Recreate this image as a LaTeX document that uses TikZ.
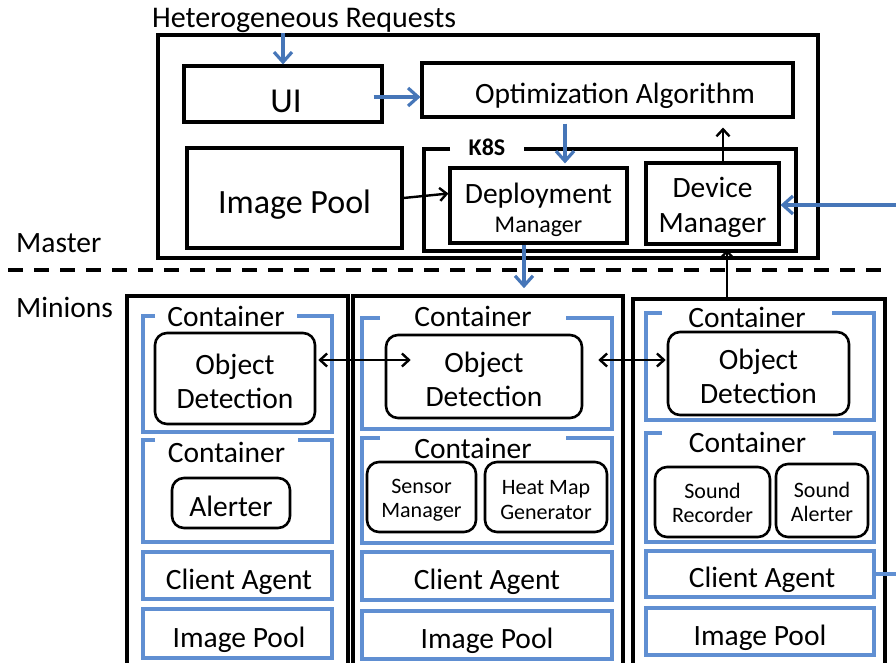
\documentclass[tikz,border=0pt]{standalone}
\usepackage{fontspec}
\setmainfont{Carlito}
\usetikzlibrary{arrows.meta,calc}
\definecolor{arrowblue}{RGB}{70,118,184}
\definecolor{boxblue}{RGB}{96,143,210}
\newcommand\bigtxt{\fontsize{29.5pt}{34pt}\selectfont}
\newcommand\smalltxt{\fontsize{22pt}{24.5pt}\selectfont}
% container outline with an opening in the top edge for its label
\newcommand\ctrbox[8]{%
  \draw[ctrline] (#6,#3) -- (#2,#3) -- (#2,#5) -- (#4,#5) -- (#4,#3) -- (#7,#3);
  \node[font=\bigtxt, inner sep=0pt] (#1) at ({(#6+#7)/2},#8) {Container};
}
\begin{document}
\begin{tikzpicture}[x=1pt,y=-1pt,
  frame/.style={draw, line width=3.6pt, inner sep=0pt},
  box/.style={draw, line width=3.1pt, inner sep=0pt},
  rbox/.style={draw, line width=2.6pt, rounded corners=12pt, inner sep=0pt},
  bbox/.style={draw=boxblue, line width=3.3pt, inner sep=0pt},
  txt/.style={font=\bigtxt, align=center, inner sep=0pt},
  stxt/.style={font=\smalltxt, align=center, inner sep=0pt},
  ctrline/.style={draw=boxblue, line width=3.3pt, line cap=butt, line join=miter},
  barrow/.style={draw=arrowblue, line width=3.2pt, -{Straight Barb[length=10pt,width=18pt]}},
  karrow/.style={draw=black, line width=2.4pt, -{Straight Barb[length=7pt,width=13pt]}},
  darrow/.style={draw=black, line width=2.4pt, {Straight Barb[length=7pt,width=13pt]}-{Straight Barb[length=7pt,width=13pt]}},
  lbl/.style={font=\bigtxt, inner sep=0pt, anchor=base west}]
\useasboundingbox (0,0) rectangle (896,663);
\clip (0,0) rectangle (896,663);

% ---------- master ----------
\node[lbl, font=\fontsize{30pt}{34pt}\selectfont] (hr) at (152,28) {Heterogeneous Requests};
\node[frame, minimum width=660pt, minimum height=223pt] (mst) at (488,146.5) {};
\node[box, minimum width=198pt, minimum height=56pt,
  label={[txt, font=\fontsize{35pt}{40pt}\selectfont, xshift=3pt, yshift=-7pt]center:UI}] (ui) at (283,94) {};
\node[box, minimum width=371pt, minimum height=54pt,
  label={[txt, xshift=7.5pt, yshift=-5.5pt]center:Optimization Algorithm}] (opt) at (607.5,90) {};
\node[box, minimum width=215pt, minimum height=100pt,
  label={[txt, font=\fontsize{34pt}{40pt}\selectfont, yshift=-6.5pt]center:Image Pool}] (ipm) at (294.5,198) {};

% K8S frame, open where its label sits
\draw[line width=3.1pt, line join=miter] (450,149) -- (424,149) -- (424,251) -- (796,251) -- (796,149) -- (524,149);
\node[font=\fontsize{24pt}{28pt}\selectfont\bfseries, inner sep=0pt] (k8s) at (487,147) {K8S};
\node[box, minimum width=177pt, minimum height=75pt,
  label={[txt, font=\fontsize{29.5pt}{29pt}\selectfont, yshift=-4.5pt]center:Deployment\\{\fontsize{24pt}{29pt}\selectfont Manager}}] (dep) at (538.5,205.5) {};
\node[box, minimum width=133pt, minimum height=81pt,
  label={[txt, font=\fontsize{29.5pt}{35pt}\selectfont, yshift=-3.5pt]center:Device\\Manager}] (dev) at (712.5,203.5) {};

\node[lbl] (mlabel) at (16,252) {Master};
\node[lbl] (nlabel) at (16,317) {Minions};

\coordinate (dl) at (8,270);
\coordinate (dr) at (882,270);
\draw[line width=3.6pt, dash pattern=on 15pt off 11pt] (dl) -- (dr);

% ---------- minions ----------
\node[frame, minimum width=221pt, minimum height=384pt] (m1) at (237.5,488) {};
\node[frame, minimum width=270pt, minimum height=384pt] (m2) at (488,488) {};
\node[frame, minimum width=252pt, minimum height=381pt] (m3) at (759,489.5) {};

% minion 1
\ctrbox{c11}{143}{316}{332}{432}{155}{297}{316}
\node[rbox, minimum width=160pt, minimum height=91pt,
  label={[txt, yshift=-2.5pt]center:Object\\Detection}] (od1) at (235,378.5) {};
\ctrbox{c12}{143}{440}{332}{542}{155}{298}{452}
\node[rbox, minimum width=118pt, minimum height=50pt,
  label={[txt, yshift=-3pt]center:Alerter}] (alr) at (231,503) {};
\node[bbox, minimum width=189pt, minimum height=47pt,
  label={[txt, xshift=1.5pt, yshift=-6pt]center:Client Agent}] (ca1) at (237.5,575.5) {};
\node[bbox, minimum width=189pt, minimum height=49pt,
  label={[txt, xshift=1.5pt, yshift=-6pt]center:Image Pool}] (ip1) at (237.5,633.5) {};

% minion 2
\ctrbox{c21}{362}{318}{612}{429}{380}{566}{316.5}
\node[rbox, minimum width=196pt, minimum height=83pt,
  label={[txt, yshift=-3pt]center:Object\\Detection}] (od2) at (484,376.5) {};
\ctrbox{c22}{362}{438}{612}{543}{380}{566}{448}
\node[rbox, minimum width=109pt, minimum height=70pt,
  label={[stxt, yshift=-3pt]center:Sensor\\Manager}] (sm) at (421.5,497) {};
\node[rbox, minimum width=122pt, minimum height=70pt,
  label={[stxt, yshift=-3pt]center:Heat Map\\Generator}] (hmg) at (546,497) {};
\node[bbox, minimum width=250pt, minimum height=48pt,
  label={[txt, yshift=-6pt]center:Client Agent}] (ca2) at (487,576) {};
\node[bbox, minimum width=250pt, minimum height=48pt,
  label={[txt, yshift=-6pt]center:Image Pool}] (ip2) at (487,635) {};

% minion 3
\ctrbox{c31}{646}{313}{874}{420}{662}{832}{317}
\node[rbox, minimum width=181pt, minimum height=83pt,
  label={[txt, yshift=-2.5pt]center:Object\\Detection}] (od3) at (758.5,373.5) {};
\ctrbox{c32}{646}{433}{874}{542}{662}{833}{442.5}
\node[rbox, minimum width=115pt, minimum height=70pt,
  label={[stxt, yshift=-1pt]center:Sound\\Recorder}] (sr) at (712.5,502) {};
\node[rbox, minimum width=92pt, minimum height=73pt,
  label={[stxt, yshift=-1.5pt]center:Sound\\Alerter}] (sa) at (822,500.5) {};
\node[bbox, minimum width=228pt, minimum height=46pt,
  label={[txt, xshift=2pt, yshift=-6pt]center:Client Agent}] (ca3) at (760,574) {};
\node[bbox, minimum width=228pt, minimum height=47pt,
  label={[txt, yshift=-6pt]center:Image Pool}] (ip3) at (760,631.5) {};

% ---------- connectors ----------
\coordinate (redge) at (896,205);
\coordinate (xod) at (565,0);
\coordinate (xdv) at (723,0);
\coordinate (xdm) at (524,0);
\coordinate (xmd) at (727,0);

\draw[barrow] (ui.north |- mst.north) -- (ui.north);
\draw[barrow] ($(ui.east)+(-10,3)$) -- ($(ui.east -| opt.west)+(0,3)$);
\draw[barrow] ($(opt.south -| xod)+(0,5)$) -- ($(dep.north -| xod)+(0,-3)$);
\draw[karrow] (dev.north -| xdv) -- ($(opt.south -| xdv)+(0,9)$);
\draw[karrow] (ipm.east) -- ($(dep.west)+(0,-12)$);
\draw[barrow] (redge) -- (redge -| dev.east);
\draw[barrow] (dep.south -| xdm) -- ($(m2.north -| xdm)+(0,-6)$);
\draw[karrow] (m3.north -| xmd) -- ($(dev.south -| xmd)+(0,4)$);
\draw[darrow] ($(od1.east)+(2,-18.5)$) -- ($(od2.west |- od1.east)+(26,-18.5)$);
\draw[darrow] ($(od2.east)+(15,-16.5)$) -- ($(od3.west |- od2.east)+(-1,-16.5)$);
\draw[draw=boxblue, line width=3.3pt] (ca3.east) -- (ca3.east -| redge);
\end{tikzpicture}
\end{document}
